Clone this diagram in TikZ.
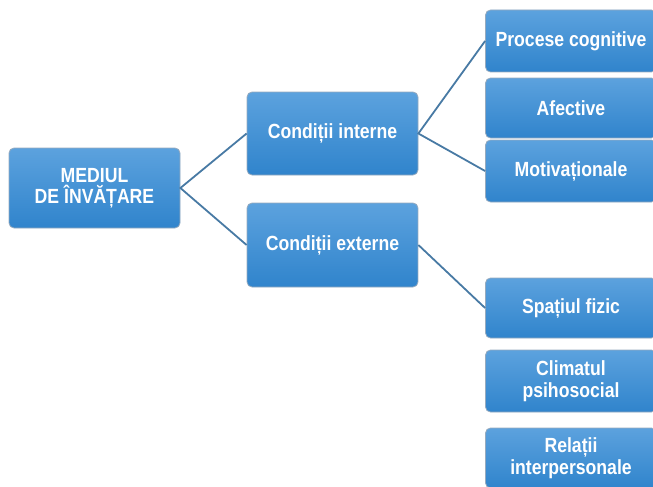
\documentclass[tikz,border=0pt]{standalone}
\usepackage{fontspec}
\setmainfont{Liberation Sans}[FakeStretch=0.86]
\usepackage{xcolor}
\usepackage{tikz}

\definecolor{boxtop}{RGB}{92,162,222}
\definecolor{boxbottom}{RGB}{48,132,204}
\definecolor{boxrim}{RGB}{150,170,190}
\definecolor{linkblue}{RGB}{72,122,164}

\begin{document}
\begin{tikzpicture}[x=1pt, y=-1pt,
    topic/.style={draw=boxrim, line width=0.8pt, rounded corners=5pt,
        top color=boxtop, bottom color=boxbottom,
        text=white, font=\fontsize{20.5}{21.5}\selectfont\bfseries,
        align=center, minimum width=171pt, inner sep=2pt},
    link/.style={draw=linkblue, line width=1.8pt}]
                \useasboundingbox (0,0) rectangle (653,487);

                % Root
                \node[topic, minimum height=80pt] (mediu) at (94.5, 188) {MEDIUL\\DE ÎNVĂȚARE};

                % Conditions
                \node[topic, minimum height=83pt] (interne) at (332.5, 133.5) {Condiții interne};
                \node[topic, minimum height=84pt] (externe) at (332.5, 245) {Condiții externe};

                % Internal factors
                \node[topic, minimum height=62pt] (cognitive) at (571, 41) {Procese cognitive};
                \node[topic, minimum height=60pt] (afective) at (571, 108) {Afective};
                \node[topic, minimum height=62pt] (motivatie) at (571, 171) {Motivaționale};

                % External factors
                \node[topic, minimum height=60pt] (spatiu) at (571, 308) {Spațiul fizic};
                \node[topic, minimum height=62pt] (climat) at (571, 381) {Climatul\\psihosocial};
                \node[topic, minimum height=60pt] (relatii) at (571, 458) {Relații\\interpersonale};

                % Root connections
                \draw[link] (interne.west) -- (mediu.east) -- (externe.west);

                % Condition connections
                \draw[link] (cognitive.west) -- (interne.east) -- (motivatie.west);
                \draw[link] (externe.east) -- (spatiu.west);
            \end{tikzpicture}
\end{document}
